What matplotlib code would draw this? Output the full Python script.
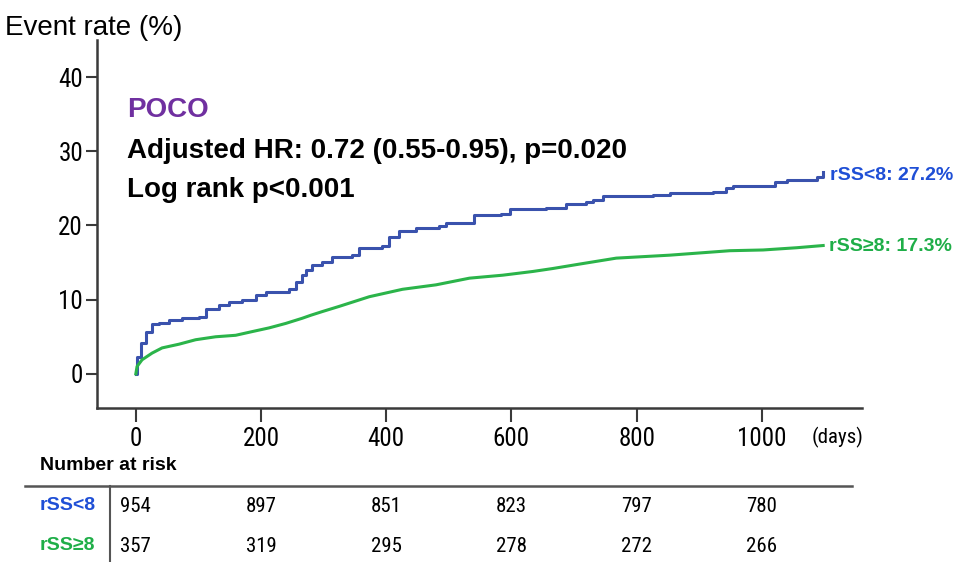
import matplotlib
matplotlib.use("Agg")
import matplotlib.pyplot as plt

# Kaplan-Meier style cumulative event curves (days, %)
days_low = [0, 2, 7.5, 15.5, 26, 37, 53, 74, 101, 111.5, 133, 149, 170, 191.5, 207.5, 245,
            255.5, 266, 271.5, 282, 298, 314, 346, 357, 394, 405, 421, 447.5, 485, 495.5,
            522, 541, 583.5, 597, 655.5, 687.5, 719.5, 730, 746, 826, 853, 922, 943.5, 954,
            1021, 1039.5, 1082, 1087.5, 1098]
rate_low = [0, 2.3, 4.1, 5.7, 6.7, 6.8, 7.3, 7.5, 7.7, 8.8, 9.3, 9.7, 10.0, 10.6, 11.1, 11.5,
            12.4, 13.3, 14.0, 14.7, 15.1, 15.8, 16.0, 16.9, 17.2, 18.5, 19.3, 19.6, 19.9, 20.3,
            20.4, 21.4, 21.5, 22.2, 22.3, 22.9, 23.1, 23.5, 24.0, 24.1, 24.4, 24.5, 25.0, 25.3,
            25.9, 26.1, 26.1, 26.5, 27.2]

days_high = [0, 2, 10, 26, 42, 69, 95.5, 127.5, 159.5, 186, 213, 239.5, 266, 279.5, 298,
             325, 373, 426, 479.5, 533, 586, 634, 666, 709, 767.5, 853, 949, 1002, 1055.5,
             1098]
rate_high = [0, 1.0, 1.9, 2.8, 3.5, 4.0, 4.6, 5.0, 5.2, 5.7, 6.2, 6.8, 7.5, 7.9, 8.4,
             9.1, 10.4, 11.4, 12.0, 12.9, 13.3, 13.8, 14.2, 14.8, 15.6, 16.0, 16.6, 16.7, 17.0,
             17.3]

group_names = ["rSS<8", "rSS\u22658"]
final_rates = [27.2, 17.3]

x_ticks = [0, 200, 400, 600, 800, 1000]
y_ticks = [0, 10, 20, 30, 40]
risk_low = [954, 897, 851, 823, 797, 780]
risk_high = [357, 319, 295, 278, 272, 266]

BLUE_LINE = "#3a52ad"
GREEN_LINE = "#2bb44a"
BLUE_TXT = "#1f4fd6"
GREEN_TXT = "#1fae48"
PURPLE = "#7030a0"
AX = "#3a3a3a"

plt.rcParams["font.family"] = ["Liberation Sans", "DejaVu Sans"]
NARROW = ["Roboto Condensed", "Liberation Sans", "DejaVu Sans"]

W, H = 956, 562
fig = plt.figure(figsize=(W / 100, H / 100), dpi=100)


def fx(px):
    return px / W


def fy(py):
    return 1 - py / H


ax = fig.add_axes([fx(97), fy(408), fx(862) - fx(97), fy(40) - fy(408)])
ax.set_xlim(-62, 1160)
ax.set_ylim(-4.6, 45)

ax.plot(days_low, rate_low, drawstyle="steps-post", color=BLUE_LINE, lw=2.2)
ax.plot(days_high, rate_high, color=GREEN_LINE, lw=2.2)

for s in ["top", "right"]:
    ax.spines[s].set_visible(False)
for s in ["left", "bottom"]:
    ax.spines[s].set_color(AX)
    ax.spines[s].set_linewidth(1.8)

ax.set_xticks(x_ticks)
ax.set_yticks(y_ticks)
ax.tick_params(axis="x", length=10, width=1.5, color=AX, labelsize=18, pad=4)
ax.tick_params(axis="y", length=8, width=1.5, color=AX, labelsize=18, pad=2)
for lab in ax.get_xticklabels() + ax.get_yticklabels():
    lab.set_family(NARROW)

# annotations inside the plot
fig.text(fx(5), fy(35), "Event rate (%)", fontsize=20, va="baseline", ha="left")
fig.text(fx(127), fy(117), "POCO", fontsize=20, fontweight="bold", color=PURPLE, va="baseline")
fig.text(fx(127), fy(158), "Adjusted HR: 0.72 (0.55-0.95), p=0.020", fontsize=20,
         fontweight="bold", va="baseline")
fig.text(fx(127), fy(197), "Log rank p<0.001", fontsize=20, fontweight="bold", va="baseline")

fig.text(fx(830), fy(180), f"{group_names[0]}: {final_rates[0]}%", fontsize=14,
         fontweight="bold", color=BLUE_TXT, va="baseline")
fig.text(fx(829), fy(251), f"{group_names[1]}: {final_rates[1]}%", fontsize=14,
         fontweight="bold", color=GREEN_TXT, va="baseline")

fig.text(fx(812), fy(437), "(days)", fontsize=15, va="center", family=NARROW)

# number-at-risk table
fig.text(fx(40), fy(465), "Number at risk", fontsize=14, fontweight="bold", va="center")
fig.add_artist(plt.Line2D([fx(25), fx(852)], [fy(486), fy(486)], color="#555555", lw=1.8))
fig.add_artist(plt.Line2D([fx(110), fx(110)], [fy(486), fy(562)], color="#555555", lw=1.5))

row_y = [506, 546]
row_colors = [BLUE_TXT, GREEN_TXT]
for name, yy, col, counts in zip(group_names, row_y, row_colors, [risk_low, risk_high]):
    fig.text(fx(40), fy(yy), name, fontsize=14, fontweight="bold", color=col, va="center")
    for xt, n in zip(x_ticks, counts):
        xd = ax.transData.transform((xt, 0))[0]
        fig.text(xd / W, fy(yy), str(n), fontsize=15, ha="center", va="center", family=NARROW)

fig.savefig("out.png", dpi=100)
